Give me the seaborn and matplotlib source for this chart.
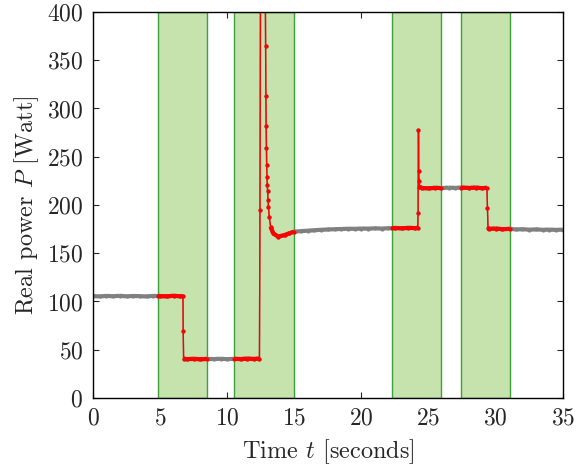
import numpy as np
import matplotlib
matplotlib.use("Agg")
import matplotlib.pyplot as plt
import seaborn as sns

# ---- data ----
time_s = [0.0, 0.5, 1.0, 1.5, 2.0, 2.5, 3.0, 3.5, 4.0, 4.5, 4.85, 5.0, 5.5, 6.0, 6.5,
          6.70, 6.72, 6.75, 7.0, 7.5, 8.0, 8.5, 9.0, 9.5, 10.0, 10.5, 11.0, 11.5, 12.0,
          12.40, 12.44, 12.50, 12.80, 12.86, 12.88, 12.90, 12.92, 12.94, 12.96, 12.98,
          13.01, 13.04, 13.07, 13.13, 13.23, 13.43, 13.8, 14.3, 14.6, 15.0, 15.5, 16.0,
          16.5, 17.0, 17.5, 18.0, 18.5, 19.0, 19.5, 20.0, 20.5, 21.0, 21.5, 22.0, 22.3,
          22.5, 23.0, 23.5, 24.0, 24.20, 24.22, 24.25, 24.27, 24.29, 24.32, 24.5, 25.0,
          25.5, 25.9, 26.5, 27.0, 27.4, 28.0, 28.5, 29.0, 29.35, 29.39, 29.43, 29.5,
          30.0, 30.5, 31.1, 31.5, 32.0, 32.5, 33.0, 33.5, 34.0, 34.5, 35.0]
power_w = [105.6, 105.2, 105.8, 105.4, 105.9, 105.3, 105.7, 105.5, 105.2, 105.8, 105.6, 105.6, 105.3, 105.9, 105.4,
           105.6, 69.0, 40.8, 40.2, 40.6, 40.1, 40.5, 40.3, 40.7, 40.2, 40.6, 40.3, 40.8, 40.4,
           40.9, 195.0, 560.0, 520.0, 365.0, 313.0, 282.0, 259.0, 241.5, 229.5, 221.0,
           214.0, 205.0, 198.0, 188.0, 177.5, 170.5, 167.2, 168.9, 170.5, 172.4, 172.9, 173.4,
           173.8, 174.3, 174.6, 174.9, 175.1, 175.4, 175.3, 175.6, 175.5, 175.8, 175.6, 175.9, 176.0,
           176.2, 175.8, 176.3, 176.0, 176.4, 192.0, 278.0, 235.0, 225.0, 219.0, 217.6, 217.2,
           217.8, 217.5, 218.0, 217.7, 218.1, 217.6, 218.0, 217.4, 217.8, 197.0, 175.8, 175.2,
           175.6, 174.9, 175.3, 174.6, 174.9, 174.4, 174.7, 174.3, 174.5, 174.2, 174.4]
span_start = [4.85, 10.5, 22.3, 27.4]
span_end = [8.5, 15.0, 25.9, 31.1]

sns.set_theme(style="ticks")
plt.rcParams["font.family"] = ["cmr10", "DejaVu Serif"]
plt.rcParams["mathtext.fontset"] = "cm"
plt.rcParams["axes.formatter.use_mathtext"] = True
plt.rcParams["axes.unicode_minus"] = False

t = np.array(time_s)
p = np.array(power_w)

fig = plt.figure(figsize=(5.76, 4.68), dpi=100)
ax = fig.add_axes([0.1615, 0.1496, 0.8155, 0.8248])

for s, e in zip(span_start, span_end):
    ax.axvspan(s, e, facecolor="#c6e2ad", edgecolor="#3aa33a", lw=1.0, zorder=1)


def draw(tt, pp, color):
    sns.lineplot(x=tt, y=pp, ax=ax, color=color, lw=1.0, marker="o",
                 markersize=3, markeredgewidth=0, estimator=None, sort=False,
                 zorder=3)
    for i in range(len(tt) - 1):
        slope = abs(pp[i + 1] - pp[i]) / (tt[i + 1] - tt[i])
        if slope < 60:
            ax.plot(tt[i:i + 2], pp[i:i + 2], color=color, lw=3.0,
                    solid_capstyle="butt", zorder=3)


draw(t, p, "#808080")
for s, e in zip(span_start, span_end):
    m = (t >= s - 1e-9) & (t <= e + 1e-9)
    draw(t[m], p[m], "#ff0000")

ax.set_xlim(0, 35)
ax.set_ylim(0, 400)
ax.set_xticks(np.arange(0, 36, 5))
ax.set_yticks(np.arange(0, 401, 50))
ax.tick_params(direction="in", top=True, right=True, length=4, width=0.8,
               labelsize=17, pad=7)
for sp in ax.spines.values():
    sp.set_linewidth(1.0)
    sp.set_color("black")
    sp.set_zorder(5)
ax.set_xlabel("Time $t$ [seconds]", fontsize=17.5, labelpad=5)
ax.set_ylabel("Real power $P$ [Watt]", fontsize=17.5, labelpad=4)

fig.savefig("out.png", dpi=100)
